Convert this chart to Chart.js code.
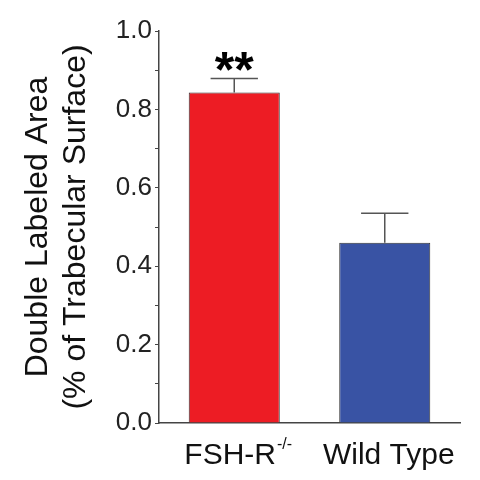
<!DOCTYPE html>
<html>
<head>
<meta charset="utf-8">
<script src="https://cdn.jsdelivr.net/npm/chart.js@4"></script>
<style>
	body { margin: 0; background: #fff; }
	canvas { display: block; }
</style>
</head>
<body>
<canvas id="chart" width="480" height="480"></canvas>
<script>
const groups = ["FSH-R", "Wild Type"];
const groupSup = ["-/-", ""];
const means = [0.843, 0.46];
const errors = [0.036, 0.075];
const marks = ["**", ""];
const yTicks = [0, 0.2, 0.4, 0.6, 0.8, 1.0];
const yTitle = ["Double Labeled Area", "(% of Trabecular Surface)"];

const barColors = ["#ed1c24", "#3953a4"];
const font = "'Liberation Sans', Arial, sans-serif";

const errorBars = {
	id: "errorBars",
	afterDatasetsDraw(chart) {
		const { ctx } = chart;
		const y = chart.scales.y;
		ctx.save();
		chart.getDatasetMeta(0).data.forEach((bar, i) => {
			const top = y.getPixelForValue(means[i] + errors[i]);
			const half = bar.width * 0.26;
			ctx.strokeStyle = "#555";
			ctx.lineWidth = 1.5;
			ctx.beginPath();
			ctx.moveTo(bar.x, bar.y);
			ctx.lineTo(bar.x, top);
			ctx.moveTo(bar.x - half, top);
			ctx.lineTo(bar.x + half, top);
			ctx.stroke();
			if (marks[i]) {
				ctx.fillStyle = "#000";
				ctx.font = "bold 50px " + font;
				ctx.textAlign = "center";
				ctx.textBaseline = "alphabetic";
				ctx.fillText(marks[i], bar.x, top + 9);
			}
		});
		ctx.restore();
	},
};

// category labels drawn by hand so the superscript fits
const groupLabels = {
	id: "groupLabels",
	afterDraw(chart) {
		const { ctx } = chart;
		const x = chart.scales.x;
		const base = chart.chartArea.bottom + 33;
		ctx.save();
		ctx.fillStyle = "#111";
		ctx.textBaseline = "middle";
		ctx.textAlign = "left";
		groups.forEach((g, i) => {
			ctx.font = "30px " + font;
			const w1 = ctx.measureText(g).width;
			ctx.font = "16px " + font;
			const w2 = groupSup[i] ? ctx.measureText(groupSup[i]).width + 1 : 0;
			const cx = x.getPixelForValue(i) + 4;
			const left = cx - (w1 + w2) / 2;
			ctx.font = "30px " + font;
			ctx.fillText(g, left, base);
			if (groupSup[i]) {
				ctx.font = "16px " + font;
				ctx.fillText(groupSup[i], left + w1 + 1, base - 11);
			}
		});
		ctx.restore();
	},
};

new Chart(document.getElementById("chart"), {
	type: "bar",
	plugins: [errorBars, groupLabels],
	data: {
		labels: groups,
		datasets: [
			{
				data: means,
				backgroundColor: barColors,
				borderColor: "#333",
				borderWidth: 1,
				barPercentage: 0.605,
				categoryPercentage: 1,
			},
		],
	},
	options: {
		responsive: false,
		animation: false,
		devicePixelRatio: 1,
		layout: { padding: { top: 31, right: 20, left: 0, bottom: 0 } },
		plugins: {
			legend: { display: false },
			tooltip: { enabled: false },
		},
		scales: {
			x: {
				grid: { display: false },
				border: { color: "#444", width: 1.5 },
				ticks: { display: false },
				afterFit: s => { s.height = 57; },
			},
			y: {
				min: 0,
				max: 1,
				afterFit: s => { s.width = 159; },
				border: { color: "#444", width: 1.5 },
				grid: {
					drawOnChartArea: false,
					tickLength: 4,
					color: "#444",
				},
				ticks: {
					stepSize: 0.1,
					padding: 3,
					color: "#222",
					font: { family: font, size: 26 },
					callback: v => {
						const t = yTicks.find(k => Math.abs(k - v) < 1e-6);
						return t === undefined ? "" : t.toFixed(1);
					},
				},
				title: {
					display: true,
					text: yTitle,
					color: "#111",
					font: { family: font, size: 32, lineHeight: 1.2 },
					padding: { top: 19, bottom: 0 },
				},
			},
		},
	},
});
</script>
</body>
</html>
